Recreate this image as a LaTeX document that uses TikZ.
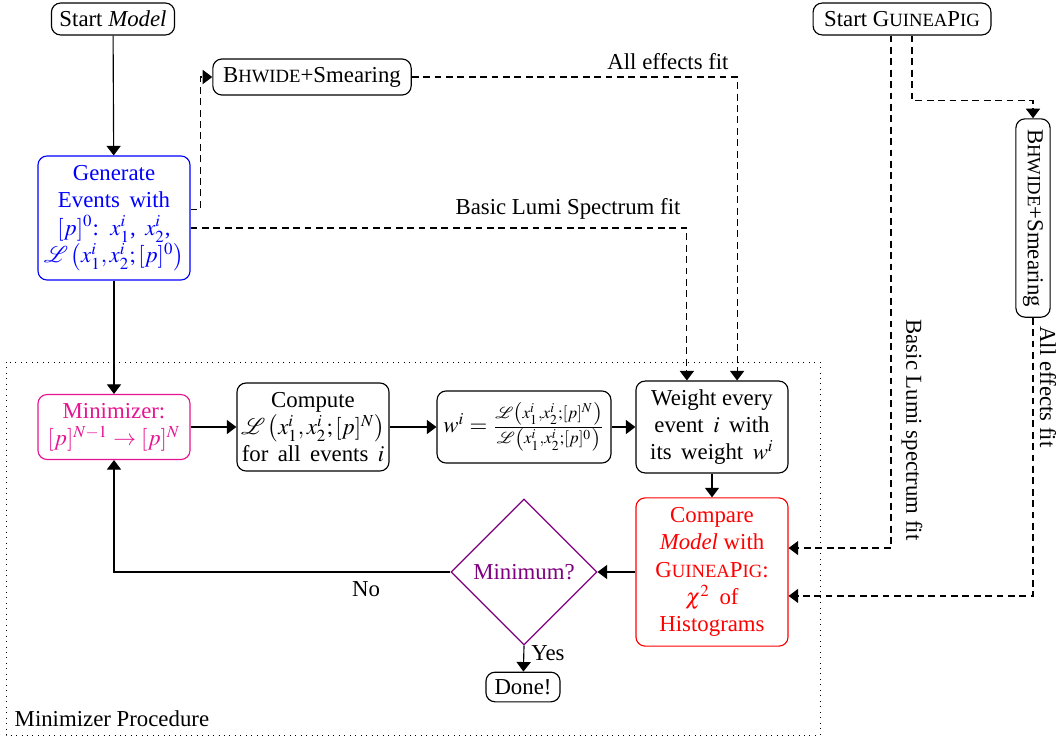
\documentclass[tikz,border=0pt]{standalone}
\usepackage{mathptmx}
\usepackage{mathrsfs}
\usepackage{fontspec}
\setmainfont{Liberation Serif}
\usetikzlibrary{shapes.geometric,arrows.meta}
\newcommand\fsc[1]{{\fontsize{8.2}{9}\selectfont #1}}
\newcommand\BHW{B\fsc{HWIDE}}
\newcommand\GP{G\fsc{UINEA}P\fsc{IG}}
\definecolor{minzcol}{RGB}{230,20,145}
\definecolor{diacol}{RGB}{128,0,128}
\begin{document}
\begin{tikzpicture}[x=0.4386pt,y=-0.4386pt,
  box/.style={draw,rounded corners=4pt,align=center,inner sep=1.5pt,line width=0.5pt},
  arr/.style={-{Triangle[length=4.2pt,width=6.2pt]},line width=0.5pt},
  darr/.style={arr,dash pattern=on 3pt off 2pt},
  lab/.style={inner sep=1pt}]
\useasboundingbox (0,0) rectangle (1059,740);
\draw[dotted] (6,362) rectangle (820,735);
\node[lab,anchor=west] (mp) at (12,719) {Minimizer Procedure};

\node[box,minimum width=54pt,minimum height=14pt] (sm) at (113,19) {Start \textit{Model}};
\node[box,draw=blue,text=blue,minimum width=66.7pt,minimum height=54.4pt] (gen) at (114,218)
  {Generate\\ Events\, with\\ $[p]^0$:\, $x_1^i$,\, $x_2^i$,\\ $\mathscr{L}\left(x_1^i,x_2^i;[p]^0\right)$};
\node[box,minimum width=87pt,minimum height=15.8pt] (bh1) at (312,77) {\BHW+Smearing};
\node[box,draw=minzcol,text=minzcol,minimum width=66.7pt,minimum height=28.5pt] (minz) at (114,427)
  {Minimizer:\\ $[p]^{N-1}\rightarrow[p]^N$};
\node[box,minimum width=66.7pt,minimum height=38.6pt] (comp) at (313,427)
  {Compute\\ $\mathscr{L}\left(x_1^i,x_2^i;[p]^N\right)$\\ for\, all\, events\, $i$};
\node[box,minimum width=76.3pt,minimum height=31.6pt] (wbox) at (524,427)
  {$w^i=\frac{\mathscr{L}\left(x_1^i,x_2^i;[p]^N\right)}{\mathscr{L}\left(x_1^i,x_2^i;[p]^0\right)}$};
\node[box,minimum width=66.7pt,minimum height=40.3pt] (wt) at (712,427)
  {Weight every\\ event\, $i$\, with\\ its\, weight\, $w^i$};
\node[box,draw=red,text=red,minimum width=66.7pt,minimum height=65pt] (cmpr) at (712,572)
  {Compare\\ \textit{Model} with\\ \GP:\\ $\chi^2$\, of\\ Histograms};
\node[diamond,draw=diacol,text=diacol,aspect=1,inner sep=0pt,minimum width=64pt,minimum height=64pt,line width=0.5pt] (dia) at (524,572) {Minimum?};
\node[box,minimum width=32.5pt,minimum height=13pt] (done) at (523,687) {Done!};
\node[box,minimum width=78pt,minimum height=14pt] (sgp) at (902,19) {Start \GP};
\node[box,rotate=-90,minimum width=87pt,minimum height=15pt] (bh2) at (1033,218) {\BHW+Smearing};

\node[lab] (l1) at (668,62) {All effects fit};
\node[lab] (l2) at (568,209) {Basic Lumi Spectrum fit};
\node[lab,rotate=-90] (l3) at (912,430) {Basic Lumi spectrum fit};
\node[lab,rotate=-90] (l4) at (1048,387) {All effects fit};
\node[lab] (no) at (366,589) {No};
\node[lab] (yes) at (548,653) {Yes};

\draw[arr] (sm) -- (gen);
\draw[arr] (gen) -- (minz);
\draw[arr] (minz) -- (comp);
\draw[arr] (comp) -- (wbox);
\draw[arr] (wbox) -- (wt);
\draw[arr] (wt) -- (cmpr);
\draw[arr] (cmpr) -- (dia);
\draw[arr] (dia.south) -- (done);
\draw[arr] (dia.west) -| (minz.south);

\draw[darr] ([yshift=3.9pt]gen.east) -- ++(10,0) |- (bh1.west);
\draw[darr] (bh1.east) -| ([xshift=11pt]wt.north);
\draw[darr] ([yshift=-4.4pt]gen.east) -| ([xshift=-11pt]wt.north);
\draw[darr] ([xshift=-4.8pt]sgp.south) |- ([yshift=10.5pt]cmpr.east);
\draw[darr] ([xshift=4.4pt]sgp.south) -- ++(0,65) -| (bh2.west);
\draw[darr] (bh2.east) |- ([yshift=-10.5pt]cmpr.east);
\end{tikzpicture}
\end{document}
